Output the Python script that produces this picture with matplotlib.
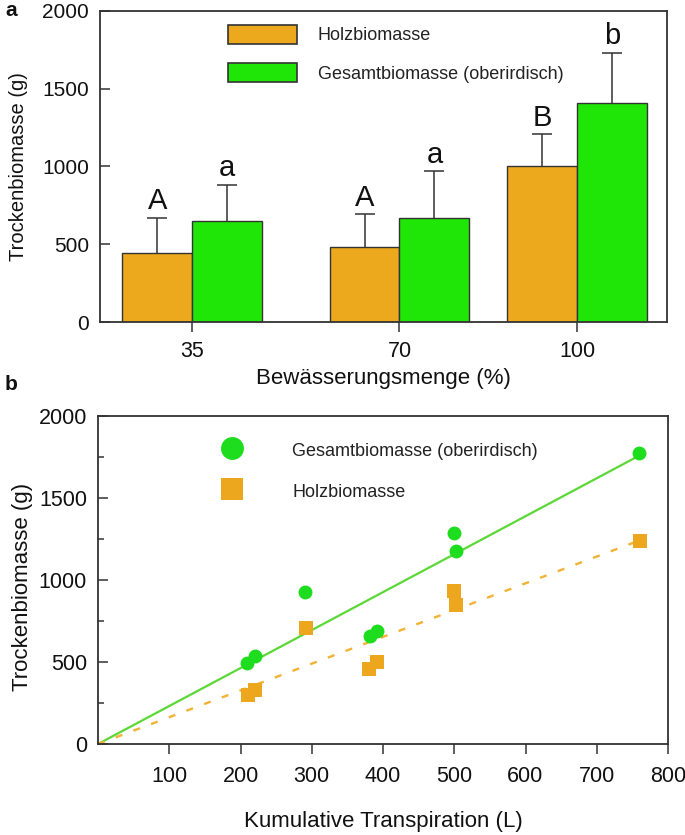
import matplotlib
matplotlib.use("Agg")
import matplotlib.pyplot as plt
from matplotlib.lines import Line2D
from matplotlib.patches import Patch
import numpy as np

plt.rcParams['font.family'] = ['Liberation Sans', 'DejaVu Sans']
plt.rcParams['text.color'] = '#111111'
plt.rcParams['axes.labelcolor'] = '#111111'
plt.rcParams['xtick.color'] = '#333333'
plt.rcParams['ytick.color'] = '#333333'
plt.rcParams['xtick.labelcolor'] = '#111111'
plt.rcParams['ytick.labelcolor'] = '#111111'

# --- Daten Teil a (Balken) ---
irrigation = [35, 70, 100]
holz = [445, 480, 1005]
holz_err = [226, 212, 204]
gesamt = [648, 669, 1408]
gesamt_err = [235, 300, 324]
holz_letters = ['A', 'A', 'B']
gesamt_letters = ['a', 'a', 'b']

# --- Daten Teil b (Streudiagramm) ---
transp_gesamt = [209, 220, 291, 382, 392, 499, 502, 759]
bio_gesamt = [493, 534, 924, 660, 692, 1289, 1178, 1777]
transp_holz = [210, 220, 292, 381, 392, 500, 502, 760]
bio_holz = [300, 331, 707, 457, 497, 930, 849, 1235]

orange = '#ECA91E'
green = '#1FE607'
edge = '#333333'

fig = plt.figure(figsize=(6.85, 8.35), dpi=100)
ax1 = fig.add_axes([100/685, 1-322/835, 567/685, 311/835])
ax2 = fig.add_axes([98/685, 1-744/835, 570/685, 328/835])

# ---------- a ----------
x = np.array(irrigation, dtype=float)
w = 11.8
ax1.bar(x - w/2, holz, w, color=orange, edgecolor=edge, linewidth=1.0, zorder=2)
ax1.bar(x + w/2, gesamt, w, color=green, edgecolor=edge, linewidth=1.0, zorder=2)
for xs, vals, errs in [(x - w/2, holz, holz_err), (x + w/2, gesamt, gesamt_err)]:
    eb = ax1.errorbar(xs, vals, yerr=[np.zeros(3), errs], fmt='none',
                      ecolor=edge, elinewidth=1.1, capsize=7.5, capthick=1.1, zorder=1)
    eb[1][0].set_visible(False)  # untere Kappe weg
for xi, v, e, t in zip(x - w/2, holz, holz_err, holz_letters):
    ax1.annotate(t, (xi, v + e), xytext=(0, 6), textcoords='offset points',
                 ha='center', va='baseline', fontsize=21)
for xi, v, e, t in zip(x + w/2, gesamt, gesamt_err, gesamt_letters):
    ax1.annotate(t, (xi, v + e), xytext=(0, 6), textcoords='offset points',
                 ha='center', va='baseline', fontsize=21)

ax1.set_xlim(19.4, 115.2)
ax1.set_ylim(0, 2000)
ax1.set_xticks(irrigation)
ax1.set_xticklabels([str(i) for i in irrigation])
ax1.set_yticks([0, 500, 1000, 1500, 2000])
ax1.tick_params(axis='y', direction='in', length=7, width=1.1, pad=8, labelsize=15)
ax1.tick_params(axis='x', direction='out', length=7, width=1.1, pad=7, labelsize=15.5)
ax1.set_xlabel('Bewässerungsmenge (%)', fontsize=16, labelpad=4)
ax1.set_ylabel('Trockenbiomasse (g)', fontsize=14.5)
ax1.yaxis.set_label_coords(-0.127, 0.5)
for s in ax1.spines.values():
    s.set_color(edge)
    s.set_linewidth(1.3)

leg1 = ax1.legend(handles=[Patch(facecolor=orange, edgecolor=edge, linewidth=1.2),
                           Patch(facecolor=green, edgecolor=edge, linewidth=1.2)],
                  labels=['Holzbiomasse', 'Gesamtbiomasse (oberirdisch)'],
                  loc='upper left', bbox_to_anchor=(0.226, 0.955), frameon=False,
                  fontsize=13, handlelength=3.8, handleheight=1.2,
                  handletextpad=1.15, labelspacing=1.05, borderpad=0, borderaxespad=0)
for t in leg1.get_texts():
    t.set_color('#222222')

# ---------- b ----------
k_g = np.sum(np.array(transp_gesamt) * bio_gesamt) / np.sum(np.array(transp_gesamt) ** 2)
k_h = np.sum(np.array(transp_holz) * bio_holz) / np.sum(np.array(transp_holz) ** 2)
xl_g = np.array([0, max(transp_gesamt)])
xl_h = np.array([0, max(transp_holz)])
ax2.plot(xl_g, k_g * xl_g, color='#5BD835', lw=1.6, zorder=2)
ax2.plot(xl_h, k_h * xl_h, color='#F2B233', lw=1.7, ls=(0, (3, 5)), zorder=2)
ax2.plot(transp_gesamt, bio_gesamt, 'o', color='#1EDC1E', ms=10, mew=0, zorder=3)
ax2.plot(transp_holz, bio_holz, 's', color='#ECA71E', ms=10, mew=0, zorder=3)

ax2.set_xlim(0, 800)
ax2.set_ylim(0, 2000)
ax2.set_xticks(range(100, 801, 100))
ax2.set_yticks([0, 500, 1000, 1500, 2000])
ax2.set_yticks(range(250, 2000, 500), minor=True)
ax2.tick_params(axis='y', which='major', direction='in', length=7, width=1.1, pad=8, labelsize=15.5)
ax2.tick_params(axis='y', which='minor', direction='in', length=4, width=1.1)
ax2.tick_params(axis='x', direction='out', length=7, width=1.1, pad=9, labelsize=15.5)
ax2.set_xlabel('Kumulative Transpiration (L)', fontsize=16, labelpad=17)
ax2.set_ylabel('Trockenbiomasse (g)', fontsize=16)
ax2.yaxis.set_label_coords(-0.114, 0.48)
for s in ax2.spines.values():
    s.set_color(edge)
    s.set_linewidth(1.3)

leg2 = ax2.legend(handles=[Line2D([], [], ls='none', marker='o', color='#1EDC1E', ms=16.5, mew=0),
                           Line2D([], [], ls='none', marker='s', color='#ECA71E', ms=16.5, mew=0)],
                  labels=['Gesamtbiomasse (oberirdisch)', 'Holzbiomasse'],
                  loc='upper left', bbox_to_anchor=(0.214, 0.927), frameon=False,
                  fontsize=13, handlelength=1.3, handleheight=1.3,
                  handletextpad=2.7, labelspacing=1.2, borderpad=0, borderaxespad=0)
for t in leg2.get_texts():
    t.set_color('#222222')

fig.text(5/685, 1-10/835, 'a', fontsize=15, fontweight='bold', va='center', ha='left')
fig.text(5/685, 1-385/835, 'b', fontsize=15, fontweight='bold', va='center', ha='left')

fig.savefig('out.png', dpi=100)
